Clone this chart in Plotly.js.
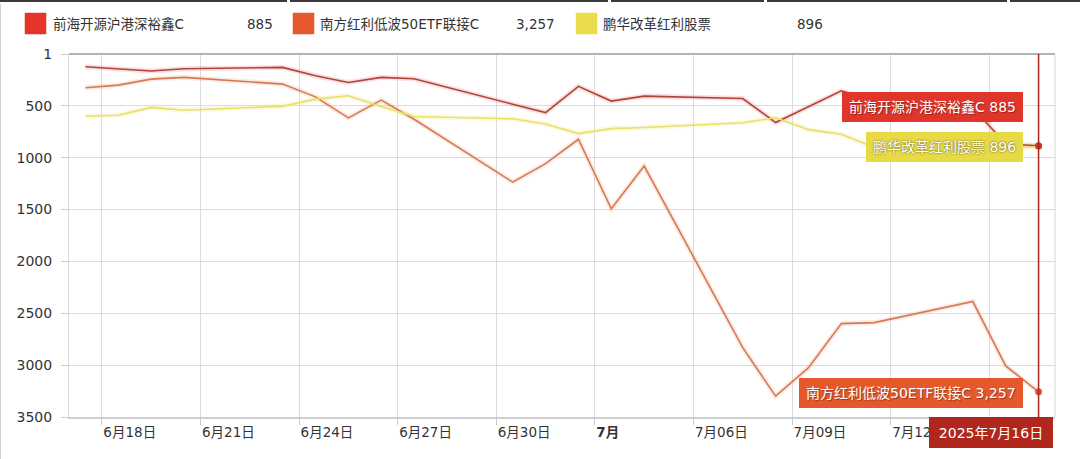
<!DOCTYPE html>
<html>
<head>
<meta charset="utf-8">
<script src="https://cdn.plot.ly/plotly-3.0.1.min.js"></script>
<style>
  html, body { margin: 0; padding: 0; background: #fff; }
  #chart { width: 1080px; height: 459px; position: relative; }
  .topbar { position: absolute; top: 0; height: 2px; background: #3a3a3a; }
  .leftbar { position: absolute; left: 0; top: 4px; width: 1px; height: 455px; background: #d0d0d0; }
</style>
</head>
<body>
<div id="chart"></div>
<div class="topbar" style="left:0;width:287px"></div>
<div class="topbar" style="left:290px;width:318px"></div>
<div class="topbar" style="left:611px;width:153px"></div>
<div class="topbar" style="left:767px;width:240px"></div>
<div class="topbar" style="left:1010px;width:70px"></div>
<div class="leftbar"></div>
<script>
// ---- data ----
const dates = ['2025-06-17','2025-06-18','2025-06-19','2025-06-20','2025-06-23','2025-06-24','2025-06-25','2025-06-26','2025-06-27','2025-06-30','2025-07-01','2025-07-02','2025-07-03','2025-07-04','2025-07-07','2025-07-08','2025-07-09','2025-07-10','2025-07-11','2025-07-14','2025-07-15','2025-07-16'];
const nameQianhai = '前海开源沪港深裕鑫C';
const nameNanfang = '南方红利低波50ETF联接C';
const namePenghua = '鹏华改革红利股票';
const rankQianhai = [124,145,165,143,130,211,275,226,240,485,565,313,455,407,430,662,505,356,450,519,868,885];
const rankNanfang = [327,301,243,226,291,414,617,446,630,1236,1058,823,1493,1081,2832,3299,3025,2600,2590,2387,3008,3257];
const rankPenghua = [601,591,516,543,504,436,404,508,603,625,675,768,720,710,663,615,730,775,900,920,905,896];
const xTickDates = ['2025-06-18','2025-06-21','2025-06-24','2025-06-27','2025-06-30','2025-07-03','2025-07-06','2025-07-09','2025-07-12','2025-07-15'];
// the 7/15 label sits under the crosshair date label in the reference, so it is not drawn
const xTickLabels = ['6月18日','6月21日','6月24日','6月27日','6月30日','<b>7月</b>','7月06日','7月09日','7月12日',''];
const yTickVals = [1,500,1000,1500,2000,2500,3000,3500];
const crosshairLabel = '2025年7月16日';

// ---- layout constants ----
const W = 1080, H = 459;
const PL = 69, PR = 1055, PT = 54, PB = 417;
const px = x => (x - PL) / (PR - PL);
const py = y => (PB - y) / (PB - PT);
const FONT = 'DejaVu Sans, Noto Sans CJK SC, sans-serif';
const DAY = 86400000;

const series = [
  {name: nameQianhai, y: rankQianhai, line: '#b3423d', glow: 'rgba(235,110,110,0.22)', legend: '#e5352a', dot: '#c9372c', box: '#e0352a'},
  {name: nameNanfang, y: rankNanfang, line: '#d47a55', glow: 'rgba(240,150,110,0.20)', legend: '#e65a2c', dot: '#e0582e', box: '#e4582c'},
  {name: namePenghua, y: rankPenghua, line: '#eadf6a', glow: 'rgba(240,230,120,0.25)', legend: '#ebdc4c', dot: '#e3d43e', box: '#e7da45'}
];

const traces = [];
series.forEach(s => {
  traces.push({x: dates, y: s.y, type: 'scatter', mode: 'lines', xperiod: DAY, xperiodalignment: 'middle',
    line: {color: s.glow, width: 5}, hoverinfo: 'skip', showlegend: false});
});
series.forEach(s => {
  traces.push({x: dates, y: s.y, type: 'scatter', mode: 'lines', name: s.name, xperiod: DAY, xperiodalignment: 'middle',
    line: {color: s.line, width: 1.6}, showlegend: false});
});
const last = dates.length - 1;
[1, 2, 0].forEach(i => {
  const s = series[i];
  traces.push({x: [dates[last]], y: [s.y[last]], type: 'scatter', mode: 'markers', xperiod: DAY, xperiodalignment: 'middle',
    marker: {color: s.dot, size: 7}, showlegend: false, hoverinfo: 'skip'});
});

const lastNoon = dates[last] + ' 12:00';
const fmt = v => v.toLocaleString('en-US');

const shapes = [
  {type: 'line', xref: 'paper', yref: 'paper', x0: 0, x1: 1, y0: 1, y1: 1, line: {color: '#9a9a9a', width: 1.5}},
  {type: 'line', xref: 'paper', yref: 'paper', x0: 1, x1: 1, y0: 0, y1: 1, line: {color: '#d8d8d8', width: 1}},
  {type: 'line', xref: 'x', yref: 'paper', x0: lastNoon, x1: lastNoon, y0: 0, y1: 1, line: {color: '#a8271d', width: 1.5}, layer: 'above'}
];
const annotations = [];

// custom legend
const legendSquares = [25, 293, 576];
const legendTextX = [51, 318, 601];
const legendValueRight = [275, 557, 825];
series.forEach((s, i) => {
  shapes.push({type: 'rect', xref: 'paper', yref: 'paper', x0: px(legendSquares[i]), x1: px(legendSquares[i] + 21),
    y0: py(34), y1: py(13), fillcolor: s.legend, line: {color: s.legend, width: 0.5}});
  annotations.push({xref: 'paper', yref: 'paper', x: px(legendTextX[i]), y: py(24), xanchor: 'left', yanchor: 'middle',
    text: s.name, showarrow: false, font: {family: FONT, size: 13.5, color: '#333'}});
  annotations.push({xref: 'paper', yref: 'paper', x: px(legendValueRight[i]), y: py(24), xanchor: 'right', yanchor: 'middle',
    text: fmt(s.y[last]), showarrow: false, font: {family: FONT, size: 13.5, color: '#333'}});
});

// split tooltips at last point
const tipShift = [39, -1, 0];
series.forEach((s, i) => {
  annotations.push({xref: 'x', yref: 'y', x: lastNoon, y: s.y[last], xanchor: 'right', yanchor: 'middle',
    xshift: -16, yshift: tipShift[i], showarrow: false,
    text: s.name + ' ' + fmt(s.y[last]),
    bgcolor: s.box, bordercolor: s.box, borderwidth: 1, borderpad: 6,
    font: {family: FONT, size: 14, color: '#ffffff', shadow: i === 2 ? '0px 0px 2px rgba(0,0,0,0.7)' : '1px 1px 1px rgba(0,0,0,0.35)'}});
});

// crosshair date label
annotations.push({xref: 'paper', yref: 'paper', x: px(1053), y: py(417), xanchor: 'right', yanchor: 'top',
  text: crosshairLabel, showarrow: false, bgcolor: '#b1261d', bordercolor: '#b1261d', borderwidth: 1, borderpad: 2,
  width: 118, height: 25, font: {family: FONT, size: 14, color: '#ffffff'}});

const layout = {
  width: W, height: H,
  margin: {l: PL, r: W - PR, t: PT, b: H - PB, pad: 0},
  paper_bgcolor: '#ffffff', plot_bgcolor: '#ffffff',
  showlegend: false,
  font: {family: FONT, size: 13, color: '#333'},
  xaxis: {
    type: 'date', range: ['2025-06-17', '2025-07-17'],
    tickmode: 'array', tickvals: xTickDates, ticktext: xTickLabels,
    ticks: 'outside', ticklen: 6, tickcolor: '#cccccc', tickwidth: 1,
    ticklabelposition: 'outside right', ticklabelstandoff: 2,
    showgrid: true, gridcolor: '#dcdcdc', gridwidth: 1,
    showline: true, linecolor: '#cfcfcf', linewidth: 2,
    zeroline: false, tickfont: {family: FONT, size: 13.5, color: '#333'}
  },
  yaxis: {
    range: [3500, 1],
    tickmode: 'array', tickvals: yTickVals, ticktext: yTickVals.map(String),
    ticks: 'outside', ticklen: 7, tickcolor: '#cccccc', tickwidth: 1,
    ticklabelstandoff: 6,
    showgrid: true, gridcolor: '#dcdcdc', gridwidth: 1,
    showline: true, linecolor: '#d8d8d8', linewidth: 1,
    zeroline: false, tickfont: {family: FONT, size: 14, color: '#333'}
  },
  shapes: shapes,
  annotations: annotations
};

Plotly.newPlot('chart', traces, layout, {displayModeBar: false, staticPlot: true});
</script>
</body>
</html>
